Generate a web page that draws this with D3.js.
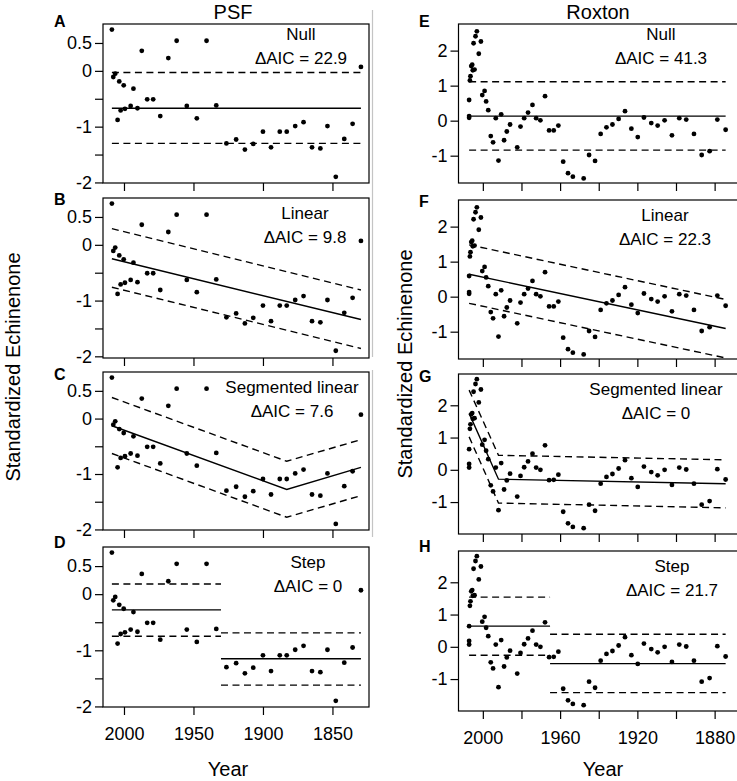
<!DOCTYPE html>
<head>
  <meta charset="utf-8">
  <script src="https://d3js.org/d3.v7.min.js"></script>
  <style>
    body { margin: 0; background: #fff; }
    text { font-family: "Liberation Sans", Arial, sans-serif; fill: #000; }
    .tick text { font-size: 18px; font-family: "Liberation Sans", Arial, sans-serif; }
    .tick line { stroke: #000; stroke-width: 1.2; }
    text.model { font-size: 17px; }
    text.letter { font-size: 16px; font-weight: 700; }
    text.title { font-size: 20px; }
    text.axisTitle { font-size: 20px; }
    path.fit { fill: none; stroke: #000; stroke-width: 1.4; }
    path.band { fill: none; stroke: #000; stroke-width: 1.4; stroke-dasharray: 7, 4.5; }
    rect.frame { fill: none; stroke: #000; stroke-width: 1.2; }
  </style>
</head>

<body>
  <script>
    // ---- data ----
    const psfYears = [2008.7, 2007.7, 2006.3, 2004.6, 2003.4, 2002.4, 2000.2, 1999.3, 1995.2, 1993.2,
      1990.3, 1987.2, 1983.3, 1979.0, 1973.9, 1968.1, 1962.1, 1954.8, 1947.6, 1940.6,
      1933.6, 1926.3, 1919.3, 1913.0, 1907.0, 1900.0, 1894.2, 1887.9, 1882.9, 1876.8,
      1870.8, 1864.7, 1858.7, 1853.6, 1847.6, 1841.5, 1835.5, 1829.5];
    const psfValues = [0.74, -0.11, -0.05, -0.88, -0.19, -0.71, -0.26, -0.68, -0.63, -0.32,
      -0.67, 0.36, -0.51, -0.51, -0.81, 0.23, 0.54, -0.63, -0.85, 0.54,
      -0.62, -1.30, -1.23, -1.41, -1.31, -1.09, -1.37, -1.09, -1.09, -0.99,
      -0.92, -1.37, -1.39, -0.99, -1.90, -1.22, -0.95, 0.07];

    const roxYears = [2007.1, 2007.1, 2007.1, 2006.7, 2006.4, 2006.0, 2005.5, 2005.2, 2004.8, 2004.3,
      2003.8, 2003.1, 2002.1, 2001.0, 2000.3, 1999.1, 1998.3, 1997.2, 1995.9, 1994.7,
      1993.3, 1991.9, 1990.5, 1989.0, 1987.6, 1985.9, 1982.2, 1980.5, 1978.6, 1976.6,
      1974.3, 1972.4, 1970.2, 1967.8, 1965.7, 1963.3, 1960.9, 1958.4, 1955.9, 1953.4,
      1947.8, 1945.0, 1941.9, 1939.0, 1936.0, 1932.9, 1929.7, 1926.4, 1923.1, 1919.8,
      1916.6, 1912.8, 1909.5, 1905.9, 1902.1, 1898.3, 1894.7, 1890.7, 1886.7, 1882.6,
      1878.6, 1874.3];
    // panels E and F
    const roxValues = [0.59, 0.13, 0.08, 1.15, 1.27, 1.56, 1.60, 1.44, 2.21, 1.46,
      2.41, 2.55, 1.91, 2.26, 0.73, 0.85, 0.55, 0.30, -0.44, -0.62,
      0.07, -1.14, 0.18, -0.56, -0.31, -0.11, -0.76, -0.17, 0.07, 0.23,
      0.45, 0.07, 0.01, 0.70, -0.28, -0.28, -0.14, -1.17, -1.50, -1.60,
      -1.65, -0.98, -1.15, -0.38, -0.19, -0.11, 0.05, 0.27, -0.23, -0.47,
      0.09, -0.07, -0.14, 0.01, -0.42, 0.07, 0.03, -0.38, -0.98, -0.87,
      0.03, -0.26];
    // panels G and H
    const roxValuesGH = [0.64, 0.18, 0.07, 1.27, 1.41, 1.72, 1.76, 1.58, 2.42, 1.60,
      2.66, 2.81, 2.09, 2.49, 0.78, 0.93, 0.59, 0.33, -0.48, -0.67,
      0.07, -1.25, 0.21, -0.61, -0.33, -0.12, -0.83, -0.19, 0.08, 0.26,
      0.50, 0.07, 0.00, 0.76, -0.32, -0.31, -0.15, -1.30, -1.66, -1.77,
      -1.81, -1.08, -1.27, -0.43, -0.22, -0.13, 0.04, 0.30, -0.26, -0.53,
      0.10, -0.07, -0.17, 0.00, -0.47, 0.07, 0.01, -0.43, -1.08, -0.97,
      0.02, -0.30];

    // fitted models: list of segments, each vertex = [year, fit, upper, lower]
    const psfNull = [[[2008.7, -0.67, -0.03, -1.30], [1829.5, -0.67, -0.03, -1.30]]];
    const psfLinear = [[[2008.7, -0.25, 0.29, -0.76], [1829.5, -1.34, -0.81, -1.86]]];
    const psfSegmented = [[[2008.7, -0.13, 0.38, -0.63], [1882.9, -1.28, -0.77, -1.78], [1829.5, -0.88, -0.38, -1.39]]];
    const psfStep = [[[2008.7, -0.28, 0.18, -0.75], [1930.2, -0.28, 0.18, -0.75]],
      [[1930.2, -1.15, -0.69, -1.62], [1829.5, -1.15, -0.69, -1.62]]];

    const roxNull = [[[2007.1, 0.13, 1.11, -0.84], [1874.3, 0.13, 1.11, -0.84]]];
    const roxLinear = [[[2007.1, 0.64, 1.48, -0.19], [1874.3, -0.91, -0.08, -1.75]]];
    const roxSegmented = [[[2007.1, 1.75, 2.47, 1.02], [1991.9, -0.29, 0.45, -1.03], [1874.3, -0.43, 0.31, -1.18]]];
    const roxStep = [[[2007.1, 0.64, 1.54, -0.26], [1965.2, 0.64, 1.54, -0.26]],
      [[1965.2, -0.52, 0.39, -1.42], [1874.3, -0.52, 0.39, -1.42]]];

    const modelNames = ["Null", "Linear", "Segmented linear", "Step"];
    const psfAIC = ["22.9", "9.8", "7.6", "0"];
    const roxAIC = ["41.3", "22.3", "0", "21.7"];
    const psfLetters = ["A", "B", "C", "D"];
    const roxLetters = ["E", "F", "G", "H"];

    const psfYTicks = [0.5, 0, -0.5, -1, -1.5, -2];
    const psfYLabels = [0.5, 0, -1, -2];
    const roxYTicks = [2, 1, 0, -1];
    const psfXTicks = [2000, 1950, 1900, 1850];
    const psfXLabels = [2000, 1950, 1900, 1850];
    const roxXTicks = [2000, 1980, 1960, 1940, 1920, 1900, 1880];
    const roxXLabels = [2000, 1960, 1920, 1880];

    // ---- layout ----
    const width = 737, height = 781;
    const svg = d3.select("body").append("svg")
      .attr("width", width)
      .attr("height", height);

    const columns = [
      {
        title: "PSF", titleX: 233, left: 103, right: 369, letterX: 54,
        xDomain: [2015.1, 1823.7], xTicks: psfXTicks, xLabels: psfXLabels,
        tops: [24, 198, 372, 547], bottoms: [183, 358, 530, 707],
        labelOffset: [68, 64, 77, 61],
        yLabelX: 19.5, yLabelY: 367, yearX: 228,
        panels: [
          { years: psfYears, values: psfValues, fit: psfNull, yDomain: [-2.01, 0.84], yTicks: psfYTicks, yLabels: psfYLabels },
          { years: psfYears, values: psfValues, fit: psfLinear, yDomain: [-2.03, 0.84], yTicks: psfYTicks, yLabels: psfYLabels },
          { years: psfYears, values: psfValues, fit: psfSegmented, yDomain: [-2.01, 0.84], yTicks: psfYTicks, yLabels: psfYLabels },
          { years: psfYears, values: psfValues, fit: psfStep, yDomain: [-2.01, 0.84], yTicks: psfYTicks, yLabels: psfYLabels }
        ],
        letters: psfLetters, aic: psfAIC
      },
      {
        title: "Roxton", titleX: 598, left: 458.5, right: 738, letterX: 419,
        xDomain: [2012.6, 1867.9], xTicks: roxXTicks, xLabels: roxXLabels,
        tops: [24, 200, 374, 551], bottoms: [183, 359, 534, 711],
        labelOffset: [77, 73, 82, 66],
        yLabelX: 411.5, yLabelY: 364, yearX: 603,
        panels: [
          { years: roxYears, values: roxValues, fit: roxNull, yDomain: [-1.78, 2.76], yTicks: roxYTicks, yLabels: roxYTicks },
          { years: roxYears, values: roxValues, fit: roxLinear, yDomain: [-1.78, 2.76], yTicks: roxYTicks, yLabels: roxYTicks },
          { years: roxYears, values: roxValuesGH, fit: roxSegmented, yDomain: [-1.99, 2.97], yTicks: roxYTicks, yLabels: roxYTicks },
          { years: roxYears, values: roxValuesGH, fit: roxStep, yDomain: [-1.99, 2.97], yTicks: roxYTicks, yLabels: roxYTicks }
        ],
        letters: roxLetters, aic: roxAIC
      }
    ];

    const letterDy = [3, 7, 8, 1];
    const modelDy = [16, 21, 21, 21];

    // faint border left over from the original composite
    [[10, 357], [370, 537]].forEach(s => {
      svg.append("line")
        .attr("x1", 372.5).attr("x2", 372.5)
        .attr("y1", s[0]).attr("y2", s[1])
        .attr("stroke", "#c4c4c4")
        .attr("stroke-width", 1.2);
    });

    columns.forEach(col => {
      const x = d3.scaleLinear().domain(col.xDomain).range([col.left, col.right]);

      svg.append("text")
        .attr("class", "title")
        .attr("x", col.titleX)
        .attr("y", 19)
        .style("text-anchor", "middle")
        .text(col.title);

      col.panels.forEach((p, i) => {
        const top = col.tops[i], bottom = col.bottoms[i];
        const y = d3.scaleLinear().domain(p.yDomain).range([bottom, top]);
        const g = svg.append("g");

        // y axis
        g.append("g")
          .attr("transform", `translate(${col.left}, 0)`)
          .call(d3.axisLeft(y)
            .tickValues(p.yTicks)
            .tickSize(8)
            .tickPadding(3)
            .tickFormat(d => p.yLabels.includes(d) ? String(d) : ""))
          .call(a => a.select(".domain").remove());

        // x axis, labels only on the last row
        const showX = i === col.panels.length - 1;
        g.append("g")
          .attr("transform", `translate(0, ${bottom})`)
          .call(d3.axisBottom(x)
            .tickValues(col.xTicks)
            .tickSize(8)
            .tickPadding(12)
            .tickFormat(d => showX && col.xLabels.includes(d) ? String(d) : ""))
          .call(a => a.select(".domain").remove());

        // fitted line and interval
        const clipId = `clip-${col.title}-${i}`;
        g.append("clipPath").attr("id", clipId)
          .append("rect")
          .attr("x", col.left).attr("y", top)
          .attr("width", col.right - col.left).attr("height", bottom - top);

        const lines = g.append("g").attr("clip-path", `url(#${clipId})`);
        p.fit.forEach(seg => {
          [[1, "fit"], [2, "band"], [3, "band"]].forEach(([k, cls]) => {
            lines.append("path")
              .attr("class", cls)
              .attr("d", d3.line().x(d => x(d[0])).y(d => y(d[k]))(seg));
          });
        });

        // observations
        lines.selectAll("circle")
          .data(p.years.map((yr, j) => [yr, p.values[j]]))
          .join("circle")
          .attr("cx", d => x(d[0]))
          .attr("cy", d => y(d[1]))
          .attr("r", 2.4)
          .attr("fill", "#000");

        g.append("rect")
          .attr("class", "frame")
          .attr("x", col.left).attr("y", top)
          .attr("width", col.right - col.left).attr("height", bottom - top);

        // panel letter
        g.append("text")
          .attr("class", "letter")
          .attr("x", col.letterX)
          .attr("y", top + letterDy[i])
          .text(col.letters[i]);

        // model name and delta AIC
        const cx = col.right - col.labelOffset[i];
        g.append("text")
          .attr("class", "model")
          .attr("x", cx)
          .attr("y", top + modelDy[i])
          .style("text-anchor", "middle")
          .text(modelNames[i]);
        g.append("text")
          .attr("class", "model")
          .attr("x", cx)
          .attr("y", top + modelDy[i] + 23.5)
          .style("text-anchor", "middle")
          .text("\u0394AIC = " + col.aic[i]);
      });

      svg.append("text")
        .attr("class", "axisTitle")
        .attr("transform", `translate(${col.yLabelX}, ${col.yLabelY}) rotate(-90)`)
        .style("text-anchor", "middle")
        .text("Standardized Echinenone");

      svg.append("text")
        .attr("class", "axisTitle")
        .attr("x", col.yearX)
        .attr("y", 776)
        .style("text-anchor", "middle")
        .text("Year");
    });
  </script>
</body>
